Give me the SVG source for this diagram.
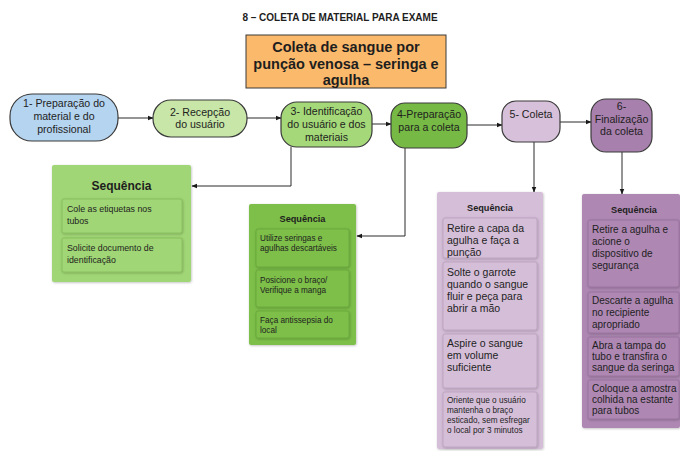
<svg xmlns="http://www.w3.org/2000/svg" width="680" height="451" viewBox="0 0 680 451">
  <defs>
    <marker id="arrow" viewBox="0 0 10 10" refX="9" refY="5" markerWidth="6" markerHeight="6" orient="auto" markerUnits="userSpaceOnUse">
      <path d="M0,1 L10,5 L0,9 Z" fill="#1a1a1a"/>
    </marker>
    <filter id="shadow" x="-10%" y="-10%" width="120%" height="120%">
      <feDropShadow dx="0.6" dy="0.8" stdDeviation="0.8" flood-color="#000" flood-opacity="0.25"/>
    </filter>
    <style>
      text { font-family: "Liberation Sans", Arial, sans-serif; fill: #1e1e1e; }
      .title { font-size: 10px; font-weight: bold; text-anchor: middle; }
      .head { font-size: 14.5px; font-weight: bold; text-anchor: middle; }
      .node { stroke: #3a3a3a; stroke-width: 1.2; }
      .nt { font-size: 10.6px; text-anchor: middle; }
      .panel { filter: url(#shadow); }
      .card { stroke-width: 0.8; filter: url(#shadow); }
      .seq { font-weight: bold; text-anchor: middle; }
      .wire { fill: none; stroke: #2a2a2a; stroke-width: 1; }
    </style>
  </defs>

  <rect width="680" height="451" fill="#ffffff"/>

  <text class="title" x="340" y="21">8 – COLETA DE MATERIAL PARA EXAME</text>

  <!-- heading box -->
  <g id="heading">
    <rect x="246" y="35" width="200" height="53" fill="#fbb96b" stroke="#3a3a3a" stroke-width="1"/>
    <text class="head" x="346" y="52">Coleta de sangue por</text>
    <text class="head" x="346" y="69">punção venosa – seringa e</text>
    <text class="head" x="346" y="85">agulha</text>
  </g>

  <!-- connectors -->
  <g id="connectors">
    <line class="wire" x1="118" y1="118" x2="153" y2="118" marker-end="url(#arrow)"/>
    <line class="wire" x1="247" y1="118" x2="281" y2="118" marker-end="url(#arrow)"/>
    <line class="wire" x1="372" y1="124" x2="391" y2="124" marker-end="url(#arrow)"/>
    <line class="wire" x1="467" y1="125" x2="502" y2="125" marker-end="url(#arrow)"/>
    <line class="wire" x1="560" y1="122" x2="591" y2="122" marker-end="url(#arrow)"/>
    <polyline class="wire" points="291,147 291,186 192,186" marker-end="url(#arrow)"/>
    <polyline class="wire" points="405,148 405,236 357,236" marker-end="url(#arrow)"/>
    <line class="wire" x1="534" y1="142" x2="534" y2="192" marker-end="url(#arrow)"/>
    <line class="wire" x1="622" y1="152" x2="622" y2="194" marker-end="url(#arrow)"/>
  </g>

  <!-- process steps -->
  <g id="step1">
    <rect class="node" x="10" y="94" width="108" height="47" rx="22" fill="#b5d4ef"/>
    <text class="nt" x="64" y="107">1- Preparação do</text>
    <text class="nt" x="64" y="120">material e do</text>
    <text class="nt" x="64" y="133">profissional</text>
  </g>
  <g id="step2">
    <rect class="node" x="153" y="100" width="94" height="37" rx="18" fill="#c7e6a7"/>
    <text class="nt" x="200" y="116">2- Recepção</text>
    <text class="nt" x="200" y="128">do usuário</text>
  </g>
  <g id="step3">
    <rect class="node" x="281" y="102" width="91" height="45" rx="16" fill="#a4d878"/>
    <text class="nt" x="326.5" y="115">3- Identificação</text>
    <text class="nt" x="326.5" y="128">do usuário e dos</text>
    <text class="nt" x="326.5" y="141">materiais</text>
  </g>
  <g id="step4">
    <rect class="node" x="391" y="103" width="76" height="45" rx="14" fill="#76b945"/>
    <text class="nt" x="429" y="118">4-Preparação</text>
    <text class="nt" x="429" y="131">para a coleta</text>
  </g>
  <g id="step5">
    <rect class="node" x="502" y="101" width="58" height="41" rx="14" fill="#d7c0d9"/>
    <text class="nt" x="531" y="118">5- Coleta</text>
  </g>
  <g id="step6">
    <rect class="node" x="591" y="99" width="61" height="53" rx="15" fill="#a880ad"/>
    <text class="nt" x="621.5" y="110">6-</text>
    <text class="nt" x="621.5" y="123">Finalização</text>
    <text class="nt" x="621.5" y="135">da coleta</text>
  </g>

  <!-- sequence panel for step 3 -->
  <g id="seq3">
    <rect class="panel" x="52" y="165" width="139" height="117" rx="2" fill="#a0d674"/>
    <text class="seq" x="121.5" y="190" font-size="12">Sequência</text>
    <rect class="card" x="62" y="199" width="120" height="34" rx="2" fill="#a0d674" stroke="#86ba5c"/>
    <text x="67" y="212" font-size="8.8">Cole as etiquetas nos</text>
    <text x="67" y="224" font-size="8.8">tubos</text>
    <rect class="card" x="62" y="238" width="120" height="34" rx="2" fill="#a0d674" stroke="#86ba5c"/>
    <text x="67" y="251" font-size="8.8">Solicite documento de</text>
    <text x="67" y="263" font-size="8.8">identificação</text>
  </g>

  <!-- sequence panel for step 4 -->
  <g id="seq4">
    <rect class="panel" x="249" y="204" width="107" height="141" rx="2" fill="#7dbf49"/>
    <text class="seq" x="302.5" y="222" font-size="9.2">Sequência</text>
    <rect class="card" x="256" y="229" width="93" height="38" rx="2" fill="#7dbf49" stroke="#66a53a"/>
    <text x="260" y="241" font-size="8.2">Utilize seringas e</text>
    <text x="260" y="251" font-size="8.2">agulhas descartáveis</text>
    <rect class="card" x="256" y="270" width="93" height="37" rx="2" fill="#7dbf49" stroke="#66a53a"/>
    <text x="260" y="283" font-size="8.2">Posicione o braço/</text>
    <text x="260" y="293" font-size="8.2">Verifique a manga</text>
    <rect class="card" x="256" y="311" width="93" height="27" rx="2" fill="#7dbf49" stroke="#66a53a"/>
    <text x="260" y="323" font-size="8.2">Faça antissepsia do</text>
    <text x="260" y="333" font-size="8.2">local</text>
  </g>

  <!-- sequence panel for step 5 -->
  <g id="seq5">
    <rect class="panel" x="437" y="192" width="106" height="257" rx="2" fill="#d5bed8"/>
    <text class="seq" x="490" y="211" font-size="9.2">Sequência</text>
    <rect class="card" x="443" y="218" width="94" height="40" rx="2" fill="#d5bed8" stroke="#b9a0bc"/>
    <text x="447" y="232" font-size="10.5">Retire a capa da</text>
    <text x="447" y="244" font-size="10.5">agulha e faça a</text>
    <text x="447" y="256" font-size="10.5">punção</text>
    <rect class="card" x="443" y="262" width="94" height="68" rx="2" fill="#d5bed8" stroke="#b9a0bc"/>
    <text x="447" y="276" font-size="10.5">Solte o garrote</text>
    <text x="447" y="288" font-size="10.5">quando o sangue</text>
    <text x="447" y="300" font-size="10.5">fluir e peça para</text>
    <text x="447" y="312" font-size="10.5">abrir a mão</text>
    <rect class="card" x="443" y="334" width="94" height="54" rx="2" fill="#d5bed8" stroke="#b9a0bc"/>
    <text x="447" y="347" font-size="10.5">Aspire o sangue</text>
    <text x="447" y="359" font-size="10.5">em volume</text>
    <text x="447" y="371" font-size="10.5">suficiente</text>
    <rect class="card" x="443" y="392" width="94" height="55" rx="2" fill="#d5bed8" stroke="#b9a0bc"/>
    <text x="447" y="403" font-size="8.2">Oriente que o usuário</text>
    <text x="447" y="413" font-size="8.2">mantenha o braço</text>
    <text x="447" y="423" font-size="8.2">esticado, sem esfregar</text>
    <text x="447" y="433" font-size="8.2">o local por 3 minutos</text>
  </g>

  <!-- sequence panel for step 6 -->
  <g id="seq6">
    <rect class="panel" x="582" y="194" width="98" height="234" rx="2" fill="#ae88b3"/>
    <text class="seq" x="634" y="213" font-size="9.2">Sequência</text>
    <rect class="card" x="588" y="220" width="91" height="67" rx="2" fill="#ae88b3" stroke="#94709a"/>
    <text x="592" y="233" font-size="10">Retire a agulha e</text>
    <text x="592" y="245" font-size="10">acione o</text>
    <text x="592" y="257" font-size="10">dispositivo de</text>
    <text x="592" y="269" font-size="10">segurança</text>
    <rect class="card" x="588" y="292" width="91" height="41" rx="2" fill="#ae88b3" stroke="#94709a"/>
    <text x="592" y="304" font-size="10">Descarte a agulha</text>
    <text x="592" y="316" font-size="10">no recipiente</text>
    <text x="592" y="328" font-size="10">apropriado</text>
    <rect class="card" x="588" y="337" width="91" height="39" rx="2" fill="#ae88b3" stroke="#94709a"/>
    <text x="592" y="349" font-size="10">Abra a tampa do</text>
    <text x="592" y="360" font-size="10">tubo e transfira o</text>
    <text x="592" y="371" font-size="10">sangue da seringa</text>
    <rect class="card" x="588" y="380" width="91" height="39" rx="2" fill="#ae88b3" stroke="#94709a"/>
    <text x="592" y="392" font-size="10">Coloque a amostra</text>
    <text x="592" y="403" font-size="10">colhida na estante</text>
    <text x="592" y="414" font-size="10">para tubos</text>
  </g>
</svg>
